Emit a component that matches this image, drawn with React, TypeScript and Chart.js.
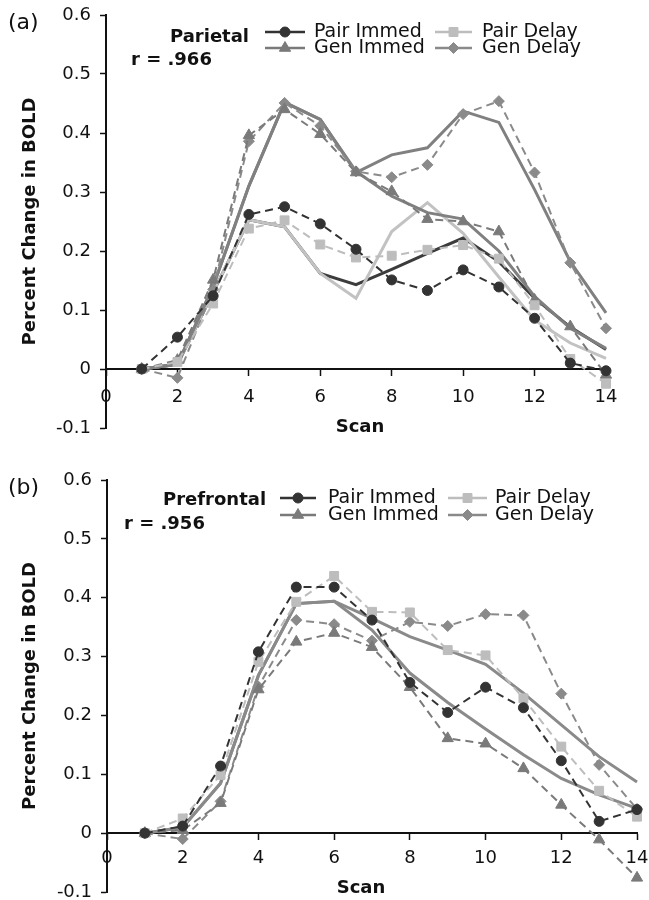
import React, { useEffect, useRef } from 'react';
import { Chart, registerables } from 'chart.js';
import { drawPoint } from 'chart.js/helpers';

Chart.register(...registerables);

const FONT = "'DejaVu Sans', Verdana, sans-serif";

// Scan numbers (x values)
const SCANS = [1, 2, 3, 4, 5, 6, 7, 8, 9, 10, 11, 12, 13, 14];
const X_MIN = 0;
const X_MAX = 14;
const X_STEP = 2;
const Y_MIN = -0.1;
const Y_MAX = 0.6;
const Y_STEP = 0.1;

const SERIES_NAMES = ['Pair Immed', 'Pair Delay', 'Gen Immed', 'Gen Delay'];

// (a) Parietal – observed
const PAR_PAIR_IMMED = [0, 0.054, 0.124, 0.262, 0.275, 0.246, 0.203, 0.151, 0.133, 0.168, 0.139, 0.086, 0.010, -0.003];
const PAR_PAIR_DELAY = [0, 0.012, 0.111, 0.238, 0.252, 0.211, 0.189, 0.192, 0.202, 0.210, 0.187, 0.108, 0.017, -0.025];
const PAR_GEN_IMMED = [0, 0.015, 0.151, 0.396, 0.440, 0.398, 0.333, 0.301, 0.254, 0.250, 0.233, 0.117, 0.072, -0.010];
const PAR_GEN_DELAY = [0, -0.015, 0.135, 0.386, 0.451, 0.412, 0.335, 0.325, 0.346, 0.432, 0.454, 0.333, 0.180, 0.069];
// (a) Parietal – model fits
const PAR_FIT_PAIR_IMMED = [0, 0.008, 0.130, 0.253, 0.241, 0.162, 0.143, 0.169, 0.196, 0.222, 0.182, 0.120, 0.071, 0.033];
const PAR_FIT_PAIR_DELAY = [0, 0.008, 0.130, 0.253, 0.241, 0.162, 0.120, 0.233, 0.282, 0.230, 0.156, 0.083, 0.044, 0.018];
const PAR_FIT_GEN_IMMED = [0, 0.008, 0.140, 0.310, 0.452, 0.423, 0.335, 0.293, 0.265, 0.254, 0.200, 0.123, 0.069, 0.035];
const PAR_FIT_GEN_DELAY = [0, 0.008, 0.140, 0.310, 0.452, 0.423, 0.333, 0.363, 0.375, 0.437, 0.418, 0.304, 0.182, 0.095];

// (b) Prefrontal – observed
const PFC_PAIR_IMMED = [0, 0.012, 0.114, 0.308, 0.418, 0.418, 0.362, 0.256, 0.205, 0.248, 0.213, 0.123, 0.020, 0.040];
const PFC_PAIR_DELAY = [0, 0.025, 0.099, 0.291, 0.393, 0.437, 0.376, 0.375, 0.311, 0.302, 0.229, 0.147, 0.072, 0.028];
const PFC_GEN_IMMED = [0, 0.005, 0.051, 0.244, 0.325, 0.340, 0.316, 0.248, 0.161, 0.152, 0.110, 0.048, -0.011, -0.076];
const PFC_GEN_DELAY = [0, -0.010, 0.054, 0.249, 0.362, 0.355, 0.327, 0.359, 0.352, 0.372, 0.370, 0.237, 0.116, 0.041];
// (b) Prefrontal – model fits
const PFC_FIT_DELAY = [0, 0.010, 0.085, 0.268, 0.390, 0.394, 0.365, 0.334, 0.311, 0.287, 0.238, 0.184, 0.130, 0.087];
const PFC_FIT_IMMED = [0, 0.010, 0.085, 0.268, 0.390, 0.394, 0.345, 0.272, 0.222, 0.177, 0.133, 0.093, 0.065, 0.042];

const STYLES: any = {
  'Pair Immed': { color: '#333333', point: 'circle', radius: 5 },
  'Pair Delay': { color: '#bdbdbd', point: 'rect', radius: 6.3 },
  'Gen Immed': { color: '#7a7a7a', point: 'triangle', radius: 6.5 },
  'Gen Delay': { color: '#8a8a8a', point: 'rectRot', radius: 5.5 },
};

const toPts = (vals: number[]) => SCANS.map((s, i) => ({ x: s, y: vals[i] }));

function observed(name: string, vals: number[]) {
  const st = STYLES[name];
  return {
    label: name,
    data: toPts(vals),
    borderColor: st.color,
    backgroundColor: st.color,
    borderWidth: 2,
    borderDash: [8, 5],
    pointStyle: st.point,
    pointRadius: st.radius,
    pointBackgroundColor: st.color,
    pointBorderColor: st.color,
    pointBorderWidth: 1,
    tension: 0,
    clip: false,
    order: 1,
  };
}

function fit(label: string, vals: number[], color: string, order: number) {
  return {
    label,
    data: toPts(vals),
    borderColor: color,
    backgroundColor: color,
    borderWidth: 3,
    pointRadius: 0,
    tension: 0,
    clip: false,
    order,
  };
}

const panelTextPlugin = {
  id: 'panelText',
  afterDraw(chart: any, _args: any, opts: any) {
    const ctx = chart.ctx;
    ctx.save();
    ctx.fillStyle = '#111';
    ctx.textBaseline = 'middle';
    ctx.textAlign = 'left';
    ctx.font = `22px ${FONT}`;
    ctx.fillText(opts.panelLabel, opts.panelPos[0], opts.panelPos[1]);
    ctx.font = `bold 18px ${FONT}`;
    ctx.fillText(opts.region, opts.regionPos[0], opts.regionPos[1]);
    ctx.fillText(opts.corr, opts.corrPos[0], opts.corrPos[1]);
    // legend
    const L = opts.legend;
    SERIES_NAMES.forEach((name, i) => {
      const col = i % 2;
      const row = i < 2 ? 0 : 1;
      const st = STYLES[name];
      const y = L.rows[row];
      const [x1, x2, tx] = L.cols[col];
      ctx.save();
      ctx.strokeStyle = st.color;
      ctx.lineWidth = 2.5;
      ctx.setLineDash([]);
      ctx.beginPath();
      ctx.moveTo(x1, y);
      ctx.lineTo(x2, y);
      ctx.stroke();
      ctx.fillStyle = st.color;
      ctx.strokeStyle = st.color;
      ctx.lineWidth = 1;
      drawPoint(ctx, { pointStyle: st.point, radius: st.radius, rotation: 0, borderWidth: 1 }, (x1 + x2) / 2, y);
      ctx.restore();
      ctx.fillStyle = '#111';
      ctx.font = `19px ${FONT}`;
      ctx.textAlign = 'left';
      ctx.textBaseline = 'middle';
      ctx.fillText(name, tx, y);
    });
    // x axis title
    ctx.font = `bold 18px ${FONT}`;
    ctx.textAlign = 'center';
    ctx.fillText(opts.xTitle, opts.xTitlePos[0], opts.xTitlePos[1]);
    ctx.restore();
  },
};

function makeConfig(p: any) {
  return {
    type: 'line',
    data: { datasets: p.datasets },
    plugins: [panelTextPlugin],
    options: {
      animation: false,
      responsive: false,
      events: [],
      layout: { padding: p.padding },
      plugins: {
        legend: { display: false },
        tooltip: { enabled: false },
        panelText: p.text,
      },
      scales: {
        x: {
          type: 'linear',
          position: { y: 0 },
          min: X_MIN,
          max: X_MAX,
          ticks: {
            stepSize: X_STEP,
            font: { family: FONT, size: 18 },
            color: '#111',
            padding: p.xTickPad,
            autoSkip: false,
            maxRotation: 0,
          },
          grid: {
            display: true,
            drawOnChartArea: false,
            drawTicks: true,
            tickLength: 6,
            tickColor: '#111',
            tickWidth: 1.5,
          },
          border: { display: true, color: '#111', width: 2 },
          title: { display: false },
          afterFit: (s: any) => {
            s.height = 0;
            s.paddingLeft = 0;
            s.paddingRight = 0;
          },
        },
        y: {
          type: 'linear',
          min: Y_MIN,
          max: Y_MAX,
          ticks: {
            stepSize: Y_STEP,
            font: { family: FONT, size: 18 },
            color: '#111',
            padding: 9,
            callback: (v: number) => {
              const r = Math.round(v * 10) / 10;
              return r === 0 ? '0' : String(r);
            },
          },
          grid: {
            display: true,
            drawOnChartArea: false,
            drawTicks: true,
            tickLength: 6,
            tickColor: '#111',
            tickWidth: 1.5,
          },
          border: { display: true, color: '#111', width: 2 },
          title: {
            display: true,
            text: 'Percent Change in BOLD',
            font: { family: FONT, size: 18, weight: 'bold' },
            color: '#111',
            padding: { top: 20, bottom: 0 },
          },
          afterFit: (s: any) => {
            s.width = p.yWidth;
            s.paddingTop = 0;
            s.paddingBottom = 0;
          },
        },
      },
    },
  };
}

const PANEL_A = {
  datasets: [
    observed('Pair Immed', PAR_PAIR_IMMED),
    observed('Pair Delay', PAR_PAIR_DELAY),
    observed('Gen Immed', PAR_GEN_IMMED),
    observed('Gen Delay', PAR_GEN_DELAY),
    fit('Gen Immed fit', PAR_FIT_GEN_IMMED, '#808080', 2),
    fit('Gen Delay fit', PAR_FIT_GEN_DELAY, '#808080', 2),
    fit('Pair Delay fit', PAR_FIT_PAIR_DELAY, '#c2c2c2', 3),
    fit('Pair Immed fit', PAR_FIT_PAIR_IMMED, '#3c3c3c', 4),
  ],
  padding: { left: 0, top: 15, right: 43, bottom: 22 },
  yWidth: 106,
  xTickPad: 12,
  text: {
    panelLabel: '(a)',
    panelPos: [8, 23],
    region: 'Parietal',
    regionPos: [170, 37],
    corr: 'r = .966',
    corrPos: [131, 60],
    legend: { rows: [32, 48], cols: [[265, 305, 314], [435, 472, 482]] },
    xTitle: 'Scan',
    xTitlePos: [360, 427],
  },
};

const PANEL_B = {
  datasets: [
    observed('Pair Immed', PFC_PAIR_IMMED),
    observed('Pair Delay', PFC_PAIR_DELAY),
    observed('Gen Immed', PFC_GEN_IMMED),
    observed('Gen Delay', PFC_GEN_DELAY),
    fit('Delay fit', PFC_FIT_DELAY, '#8a8a8a', 2),
    fit('Immed fit', PFC_FIT_IMMED, '#8a8a8a', 2),
  ],
  padding: { left: 0, top: 30, right: 12, bottom: 8 },
  yWidth: 107,
  xTickPad: 8,
  text: {
    panelLabel: '(b)',
    panelPos: [8, 38],
    region: 'Prefrontal',
    regionPos: [163, 50],
    corr: 'r = .956',
    corrPos: [124, 74],
    legend: { rows: [48, 65], cols: [[280, 316, 328], [448, 487, 495]] },
    xTitle: 'Scan',
    xTitlePos: [361, 438],
  },
};

function Panel({ cfg }: { cfg: any }) {
  const ref = useRef<HTMLCanvasElement | null>(null);
  useEffect(() => {
    if (!ref.current) return;
    const chart = new Chart(ref.current, makeConfig(cfg) as any);
    return () => chart.destroy();
  }, [cfg]);
  return <canvas ref={ref} width={649} height={450} style={{ display: 'block', width: 649, height: 450 }} />;
}

export default function App() {
  return (
    <div style={{ position: 'absolute', left: 0, top: 0, width: 649, height: 900, background: '#fff' }}>
      <Panel cfg={PANEL_A} />
      <Panel cfg={PANEL_B} />
    </div>
  );
}
